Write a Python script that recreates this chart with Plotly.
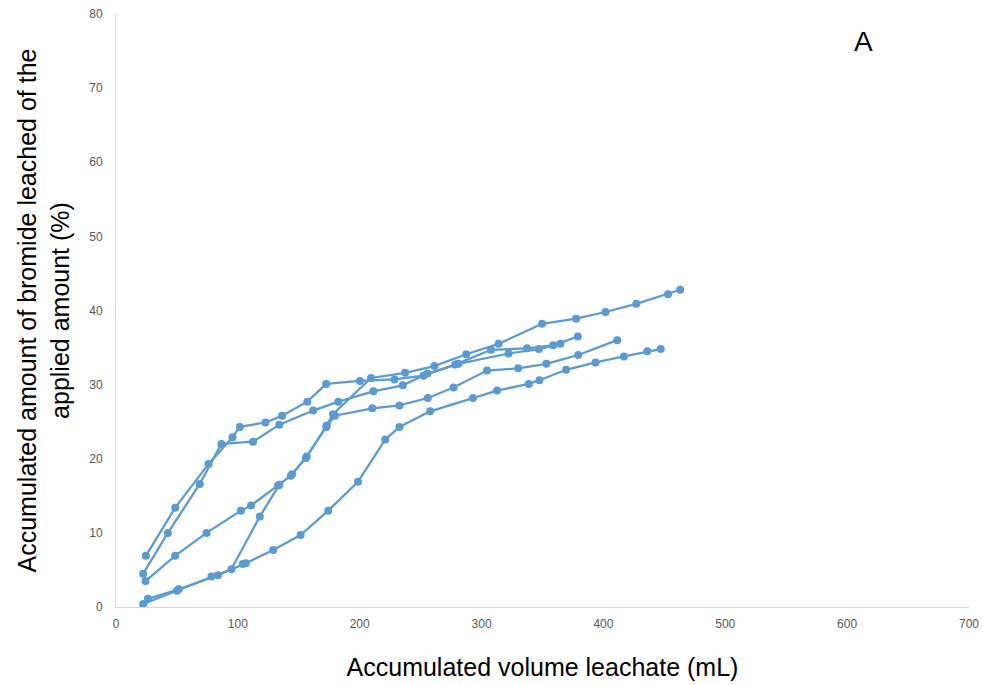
import plotly.graph_objects as go

# Accumulated volume leachate (mL) and accumulated bromide leached (%) for five columns
s1_x = [24.5, 48.6, 76.0, 95.6, 101.6, 122.7, 136.3, 157.0, 172.5, 200.2, 228.5, 252.3, 278.4, 307.7, 337.3, 358.8, 379.0]
s1_y = [6.9, 13.4, 19.3, 22.9, 24.3, 24.9, 25.8, 27.7, 30.1, 30.5, 30.7, 31.2, 32.7, 34.7, 34.9, 35.3, 36.5]

s2_x = [22.3, 42.6, 68.7, 86.5, 112.5, 134.0, 161.8, 182.4, 211.2, 235.4, 255.6, 281.0, 322.2, 347.0, 364.7]
s2_y = [4.5, 10.0, 16.6, 22.0, 22.3, 24.6, 26.5, 27.7, 29.1, 29.9, 31.5, 32.8, 34.2, 34.8, 35.5]

s3_x = [22.3, 50.0, 78.3, 94.7, 118.0, 134.0, 144.5, 156.5, 173.0, 178.0, 209.3, 237.3, 261.3, 287.4, 314.0, 349.7, 377.6, 401.7, 427.0, 453.0, 463.0]
s3_y = [0.4, 2.2, 4.1, 5.1, 12.2, 16.5, 17.9, 20.3, 24.5, 26.0, 30.9, 31.6, 32.5, 34.1, 35.5, 38.2, 38.9, 39.8, 40.9, 42.2, 42.8]

s4_x = [24.2, 48.5, 74.3, 102.5, 110.8, 133.0, 143.5, 155.8, 172.5, 179.7, 210.3, 232.6, 255.9, 277.0, 304.4, 330.0, 353.2, 379.3, 411.3]
s4_y = [3.5, 6.9, 10.0, 13.0, 13.7, 16.4, 17.7, 20.1, 24.3, 25.8, 26.8, 27.2, 28.2, 29.6, 31.9, 32.2, 32.8, 34.0, 36.0]

s5_x = [26.2, 51.5, 83.7, 104.0, 106.5, 129.0, 151.5, 174.2, 198.6, 221.0, 232.6, 257.8, 293.0, 312.7, 338.7, 347.5, 369.4, 393.5, 416.8, 436.0, 447.0]
s5_y = [1.1, 2.4, 4.3, 5.8, 5.9, 7.7, 9.7, 13.0, 16.9, 22.6, 24.3, 26.4, 28.2, 29.2, 30.1, 30.6, 32.0, 33.0, 33.8, 34.5, 34.8]

series = [(s1_x, s1_y), (s2_x, s2_y), (s3_x, s3_y), (s4_x, s4_y), (s5_x, s5_y)]

x_ticks = [0, 100, 200, 300, 400, 500, 600, 700]
y_ticks = [0, 10, 20, 30, 40, 50, 60, 70, 80]

color = "#5B9BD5"
fig = go.Figure()
for i, (xs, ys) in enumerate(series):
    fig.add_trace(go.Scatter(
        x=xs, y=ys, mode="lines+markers",
        line=dict(color=color, width=2.25),
        marker=dict(color=color, size=8),
        showlegend=False, name=f"Column {i+1}",
    ))

tick_font = dict(family="Liberation Sans Narrow, Arial Narrow, Liberation Sans, sans-serif", size=12, color="#595959")
title_font = dict(family="Liberation Sans, Arial, sans-serif", size=25, color="#000000")

fig.update_layout(
    width=983, height=685,
    margin=dict(l=116, r=14, t=14, b=78),
    paper_bgcolor="white", plot_bgcolor="white",
    xaxis=dict(
        range=[0, 700], tickvals=x_ticks, showgrid=False, zeroline=False,
        showline=True, linecolor="#D9D9D9", linewidth=1, ticks="", automargin=False,
        tickfont=tick_font, ticklabelstandoff=6,
        title=dict(text="Accumulated volume leachate (mL)", font=title_font, standoff=28),
    ),
    yaxis=dict(
        range=[0, 80], tickvals=y_ticks, showgrid=False, zeroline=False,
        showline=True, linecolor="#D9D9D9", linewidth=1, ticks="", automargin=False,
        tickfont=tick_font, ticklabelstandoff=10,
        title=dict(text="Accumulated amount of bromide leached of the<br>applied amount (%)", font=title_font, standoff=12),
    ),
    annotations=[dict(text="A", x=0.876, y=0.954, xref="paper", yref="paper",
                      xanchor="center", yanchor="middle",
                      showarrow=False, font=dict(family="Liberation Sans, Arial, sans-serif", size=28, color="#000000"))],
)

fig.write_html("out.html")
